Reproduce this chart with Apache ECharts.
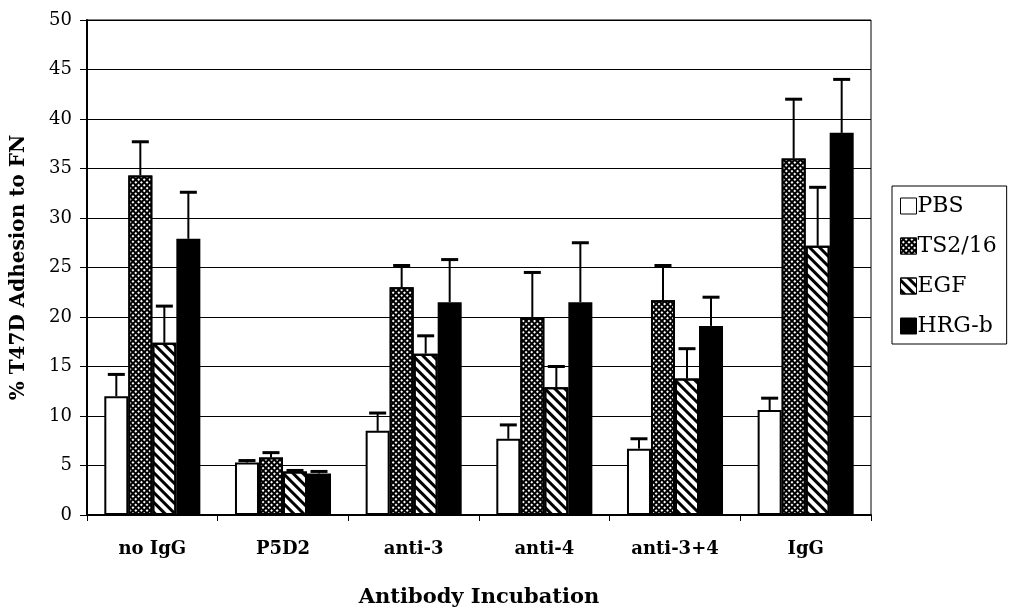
<!DOCTYPE html>
<html>
<head>
<meta charset="utf-8">
<script src="https://cdn.jsdelivr.net/npm/echarts@6/dist/echarts.min.js"></script>
<style>
  html, body { margin: 0; padding: 0; background: #fff; }
  #chart { width: 1013px; height: 614px; }
</style>
</head>
<body>
<div id="chart"></div>
<script>
// values
var categories = ['no IgG', 'P5D2', 'anti-3', 'anti-4', 'anti-3+4', 'IgG'];
var seriesNames = ['PBS', 'TS2/16', 'EGF', 'HRG-b'];
var pbs = [12.0, 5.3, 8.5, 7.7, 6.7, 10.6];
var pbsSd = [2.2, 0.2, 1.8, 1.4, 1.0, 1.2];
var ts216 = [34.3, 5.8, 23.0, 19.9, 21.7, 36.0];
var ts216Sd = [3.4, 0.5, 2.2, 4.6, 3.5, 6.0];
var egf = [17.4, 4.4, 16.3, 12.9, 13.8, 27.2];
var egfSd = [3.7, 0.1, 1.8, 2.1, 3.0, 5.9];
var hrgb = [27.9, 4.2, 21.5, 21.5, 19.1, 38.6];
var hrgbSd = [4.7, 0.2, 4.3, 6.0, 2.9, 5.4];
var yTicks = [0, 5, 10, 15, 20, 25, 30, 35, 40, 45, 50];

var means = [pbs, ts216, egf, hrgb];
var sds = [pbsSd, ts216Sd, egfSd, hrgbSd];
var catGap = 0.265;
var font = 'DejaVu Serif';

var chart = echarts.init(document.getElementById('chart'));

var styles = [
  {color: '#fff', borderColor: '#000', borderWidth: 2},
  {color: '#000', borderColor: '#000', borderWidth: 2,
    decal: {symbol: 'rect', symbolSize: 1, color: '#fff', dashArrayX: [2, 2], dashArrayY: [2, 2], rotation: Math.PI / 4}},
  {color: '#fff', borderColor: '#000', borderWidth: 2,
    decal: {symbol: 'rect', symbolSize: 1, color: '#000', dashArrayX: [1, 0], dashArrayY: [3, 4], rotation: Math.PI / 4}},
  {color: '#000', borderColor: '#000', borderWidth: 2}
];

var series = [];
for (let i = 0; i < 4; i++) {
  series.push({
    name: seriesNames[i],
    type: 'bar',
    barGap: '0%',
    barCategoryGap: (catGap * 100) + '%',
    itemStyle: styles[i],
    emphasis: {disabled: true},
    data: means[i]
  });
}

// error bars: [category, series index, mean, upper]
var errData = [];
for (let i = 0; i < 4; i++) {
  for (let c = 0; c < categories.length; c++) {
    errData.push([c, i, means[i][c], means[i][c] + sds[i][c]]);
  }
}

series.push({
  name: 'err',
  type: 'custom',
  z: 5,
  silent: true,
  encode: {x: 0, y: 3},
  data: errData,
  renderItem: function (params, api) {
    var c = api.value(0);
    var i = api.value(1);
    var center = api.coord([c, 0]);
    var band = api.size([1, 0])[0];
    var barW = band * (1 - catGap) / 4;
    var x = center[0] - 2 * barW + (i + 0.5) * barW;
    var yMean = api.coord([c, api.value(2)])[1];
    var yTop = api.coord([c, api.value(3)])[1];
    var cap = 8.5;
    return {
      type: 'group',
      children: [
        {type: 'line', shape: {x1: x, y1: yMean, x2: x, y2: yTop}, style: {stroke: '#000', lineWidth: 2}},
        {type: 'line', shape: {x1: x - cap, y1: yTop, x2: x + cap, y2: yTop}, style: {stroke: '#000', lineWidth: 3}}
      ]
    };
  }
});

chart.setOption({
  animation: false,
  backgroundColor: '#fff',
  grid: {
    left: 87, right: 142, top: 20, bottom: 99,
    show: true, borderColor: '#000', borderWidth: 1
  },
  legend: {
    data: seriesNames,
    orient: 'vertical',
    left: 892,
    top: 186,
    padding: [9, 10, 7, 8],
    itemGap: 18,
    itemWidth: 16,
    itemHeight: 16,
    itemStyle: {borderColor: '#000', borderWidth: 1},
    icon: 'rect',
    borderColor: '#000',
    borderWidth: 1,
    selectedMode: false,
    textStyle: {fontFamily: font, fontSize: 22, lineHeight: 20, color: '#000', padding: [0, 0, 0, -4]}
  },
  xAxis: {
    type: 'category',
    data: categories,
    name: 'Antibody Incubation',
    nameLocation: 'middle',
    nameGap: 72,
    nameTextStyle: {fontFamily: font, fontSize: 21, fontWeight: 'bold', color: '#000'},
    axisLine: {lineStyle: {color: '#000', width: 2}},
    axisTick: {show: true, length: 6, lineStyle: {color: '#000'}},
    axisLabel: {fontFamily: font, fontSize: 18, fontWeight: 'bold', color: '#000', margin: 25}
  },
  yAxis: {
    type: 'value',
    min: yTicks[0],
    max: yTicks[yTicks.length - 1],
    interval: 5,
    name: '% T47D Adhesion to FN',
    nameLocation: 'middle',
    nameGap: 58,
    nameTextStyle: {fontFamily: font, fontSize: 20, fontWeight: 'bold', color: '#000'},
    axisLine: {show: true, lineStyle: {color: '#000', width: 2}},
    axisTick: {show: true, length: 7, lineStyle: {color: '#000'}},
    axisLabel: {fontFamily: font, fontSize: 18, color: '#000', margin: 15},
    splitLine: {lineStyle: {color: '#000', width: 1}}
  },
  series: series
});
</script>
</body>
</html>
